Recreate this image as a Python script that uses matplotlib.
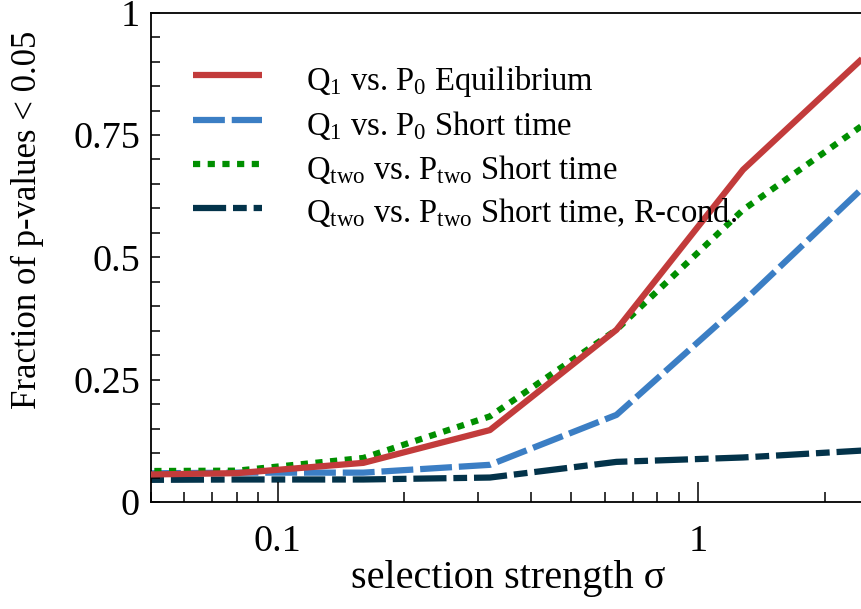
import matplotlib
matplotlib.use("Agg")
import matplotlib.pyplot as plt
from matplotlib.ticker import FixedLocator, NullFormatter, LogLocator

plt.rcParams['font.family'] = ['Liberation Serif', 'DejaVu Serif']
plt.rcParams['mathtext.fontset'] = 'custom'
plt.rcParams['mathtext.rm'] = 'Liberation Serif'
plt.rcParams['mathtext.it'] = 'Liberation Serif:italic'

# data
sigma = [0.04, 0.08, 0.16, 0.32, 0.64, 1.28, 2.56]
q1_eq = [0.055, 0.059, 0.080, 0.147, 0.352, 0.679, 0.920]
q1_short = [0.058, 0.060, 0.060, 0.076, 0.178, 0.409, 0.655]
qtwo_short = [0.063, 0.064, 0.090, 0.175, 0.352, 0.597, 0.780]
qtwo_rcond = [0.045, 0.046, 0.046, 0.050, 0.082, 0.091, 0.106]

labels = [
    r'$\mathrm{Q}_{1}$ vs. $\mathrm{P}_{0}$ Equilibrium',
    r'$\mathrm{Q}_{1}$ vs. $\mathrm{P}_{0}$ Short time',
    r'$\mathrm{Q}_{\mathrm{two}}$ vs. $\mathrm{P}_{\mathrm{two}}$ Short time',
    r'$\mathrm{Q}_{\mathrm{two}}$ vs. $\mathrm{P}_{\mathrm{two}}$ Short time, R-cond.',
]
xtick_vals = [0.1, 1]
xtick_labels = ['0.1', '1']
ytick_vals = [0, 0.25, 0.5, 0.75, 1]
ytick_labels = ['0', '0.25', '0.5', '0.75', '1']

fig = plt.figure(figsize=(8.62, 6.09), dpi=100)
ax = fig.add_axes([151/862, 1-502/609, 1-151/862, (502-12.7)/609])

lw = 4.5
ax.plot(sigma, q1_eq, color='#c23b3b', lw=lw, solid_capstyle='butt', label=labels[0], zorder=3)
ax.plot(sigma, q1_short, color='#3b7ec4', lw=lw, dashes=(5.1, 1.1), dash_capstyle='butt', label=labels[1], zorder=2)
ax.plot(sigma, qtwo_short, color='#008f00', lw=lw, dashes=(1.15, 1.2), dash_capstyle='butt', label=labels[2], zorder=2.5)
ax.plot(sigma, qtwo_rcond, color='#03334a', lw=lw, dashes=(5.3, 1.1, 2.2, 1.1), dash_capstyle='butt', label=labels[3], zorder=1)

ax.set_xscale('log')
ax.set_xlim(0.05, 2.456)
ax.set_ylim(0, 1)

ax.set_xticks(xtick_vals)
ax.set_xticklabels(xtick_labels)
ax.xaxis.set_minor_locator(LogLocator(base=10, subs=range(2, 10)))
ax.xaxis.set_minor_formatter(NullFormatter())
ax.set_yticks(ytick_vals)
ax.set_yticklabels(ytick_labels)
ax.yaxis.set_minor_locator(FixedLocator([i*0.05 for i in range(21)]))

for s in ['top', 'left', 'bottom']:
    ax.spines[s].set_linewidth(1.3)
ax.spines['right'].set_visible(False)

ax.tick_params(axis='both', which='both', direction='in', top=False, right=False, labelsize=27.5, width=1.1)
ax.tick_params(axis='x', which='major', length=14.4, pad=16)
ax.tick_params(axis='x', which='minor', length=7.2)
ax.tick_params(axis='y', which='both', length=6.5, pad=8)

ax.set_xlabel('selection strength σ', fontsize=29)
ax.xaxis.set_label_coords(0.503, -0.118)
ax.set_ylabel('Fraction of p-values < 0.05', fontsize=25)
ax.yaxis.set_label_coords(-0.1505, 0.577)

leg = ax.legend(loc='upper left', bbox_to_anchor=(0.059, 0.902), frameon=False,
                fontsize=23.5, handlelength=2.12, handletextpad=1.35, handleheight=1.35,
                labelspacing=0.215, borderpad=0, borderaxespad=0)

fig.savefig('out.png', dpi=100)
